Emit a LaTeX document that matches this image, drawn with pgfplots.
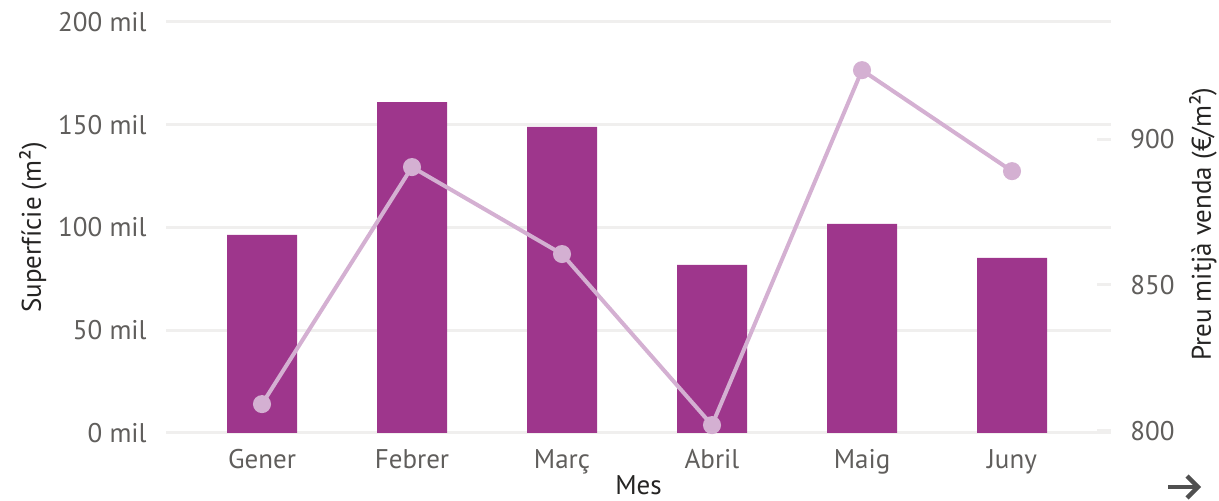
\documentclass[border=0pt]{standalone}
\usepackage{pgfplots}
\pgfplotsset{compat=1.18}
\usepackage{fontspec}
\setmainfont{PT Sans}
\definecolor{barc}{RGB}{158,54,140}
\definecolor{linec}{RGB}{212,176,210}
\definecolor{gridc}{RGB}{240,239,238}
\definecolor{tickc}{RGB}{96,94,92}
\definecolor{titlec}{RGB}{37,36,35}
\definecolor{arrowc}{RGB}{80,80,80}
\begin{document}
\begin{tikzpicture}
\useasboundingbox (0,0) rectangle (609.5pt,250.5pt);
\begin{axis}[
  at={(83pt,34pt)}, anchor=south west,
  scale only axis, width=472.5pt, height=205.5pt,
  xmin=-0.64, xmax=5.66, ymin=0, ymax=200,
  xtick={0,...,5}, xticklabels={Gener,Febrer,Març,Abril,Maig,Juny},
  ytick={0,50,100,150,200}, yticklabels={0 mil,50 mil,100 mil,150 mil,200 mil},
  axis line style={draw=none}, major tick length=0pt,
  ymajorgrids, major grid style={gridc, line width=1.5pt},
  tick label style={font=\fontsize{13.5}{16}\selectfont, text=tickc},
  xticklabel style={anchor=base, inner sep=0pt, yshift=-18pt},
  yticklabel style={anchor=east, inner sep=0pt, xshift=-9.5pt},
  xlabel={Mes}, ylabel={Superfície (m²)},
  label style={font=\fontsize{13.5}{16}\selectfont, text=titlec},
  xlabel style={at={(axis description cs:0.5,-0.150)}, anchor=base},
  ylabel style={at={(axis description cs:-0.1407,0.5)}, anchor=center},
  clip=false,
]
\addplot[ybar, bar width=35pt, fill=barc, draw=none] coordinates {(0,96.4) (1,161) (2,149) (3,81.8) (4,101.7) (5,85.2)};
\end{axis}
\begin{axis}[
  at={(83pt,34pt)}, anchor=south west,
  scale only axis, width=472.5pt, height=205.5pt,
  xmin=-0.64, xmax=5.66, ymin=799.3, ymax=940.1,
  xtick=\empty, axis line style={draw=none},
  ytick={800,850,900}, ytick pos=right, yticklabel pos=right,
  /pgf/number format/assume math mode=true,
  tick align=inside, major tick length=7pt,
  major tick style={gridc, line width=1.5pt},
  tick label style={font=\fontsize{13.5}{16}\selectfont, text=tickc},
  yticklabel style={anchor=west, inner sep=0pt, xshift=9.5pt},
  ylabel={Preu mitjà venda (€/m²)},
  label style={font=\fontsize{13.5}{16}\selectfont, text=titlec},
  ylabel style={at={(axis description cs:1.0974,0.508)}, anchor=center},
  clip=false,
]
\addplot[linec, line width=2pt, mark=*, mark size=3.5pt, mark options={fill=linec, draw=linec}] coordinates {(0,809.2) (1,890.4) (2,860.6) (3,802) (4,923.6) (5,889)};
\end{axis}
\draw[arrowc, line width=2.2pt] (584pt,7pt) -- (598.5pt,7pt);
\draw[arrowc, line width=2.2pt, line join=miter, line cap=butt] (593.5pt,12.5pt) -- (599pt,7pt) -- (593.5pt,1.5pt);
\end{tikzpicture}
\end{document}
